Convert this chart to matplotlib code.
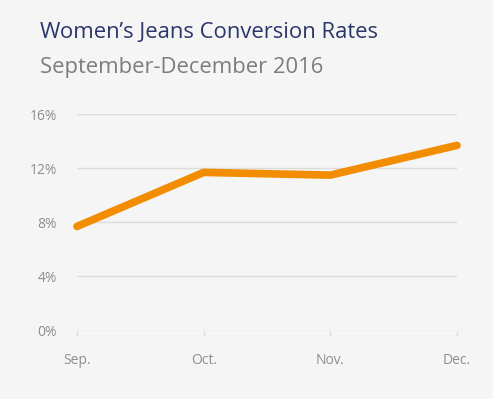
import matplotlib
matplotlib.use("Agg")
import matplotlib.pyplot as plt
from matplotlib import font_manager as fm
from matplotlib.ticker import FuncFormatter

months = ["Sep.", "Oct.", "Nov.", "Dec."]
rates = [7.7, 11.7, 11.5, 13.7]
yticks = [0, 4, 8, 12, 16]

bg = "#f5f5f6"
reg = [f.fname for f in fm.fontManager.ttflist if f.fname.endswith("OpenSans-Regular.ttf")]
if reg:
    fp = lambda s: fm.FontProperties(fname=reg[0], size=s)
else:
    fp = lambda s: fm.FontProperties(family="Open Sans", size=s)

fig = plt.figure(figsize=(4.93, 3.99), dpi=100, facecolor=bg)
ax = fig.add_axes([77/493, 1-330.5/399, (457-77)/493, (330.5-114.3)/399])
ax.set_facecolor(bg)

x = list(range(len(months)))
ax.plot(x, rates, color="#f28c00", lw=5.5, solid_capstyle="round",
        solid_joinstyle="round", clip_on=False, zorder=3)

ax.set_xlim(0, len(months)-1)
ax.set_ylim(0, 16)
ax.set_yticks(yticks)
ax.yaxis.set_major_formatter(FuncFormatter(lambda v, p: f"{int(v)}%"))
ax.set_xticks(x)
ax.set_xticklabels(months)
for s in ax.spines.values():
    s.set_visible(False)
ax.grid(axis="y", color="#dcdcdf", lw=1)
ax.set_axisbelow(True)
ax.tick_params(axis="y", length=0, pad=14.5, labelcolor="#8e8e93")
ax.tick_params(axis="x", length=3.4, width=1, color="#dcdcdf", pad=13,
               labelcolor="#8e8e93")
for lab in ax.get_xticklabels() + ax.get_yticklabels():
    lab.set_fontproperties(fp(10))

fig.text(40/493, 1-38/399, "Women\u2019s Jeans Conversion Rates", fontproperties=fp(15.8),
         color="#2b3768", ha="left", va="baseline")
fig.text(40/493, 1-73/399, "September-December 2016", fontproperties=fp(15.8),
         color="#7d7d80", ha="left", va="baseline")

fig.savefig("out.png", dpi=100, facecolor=bg)
